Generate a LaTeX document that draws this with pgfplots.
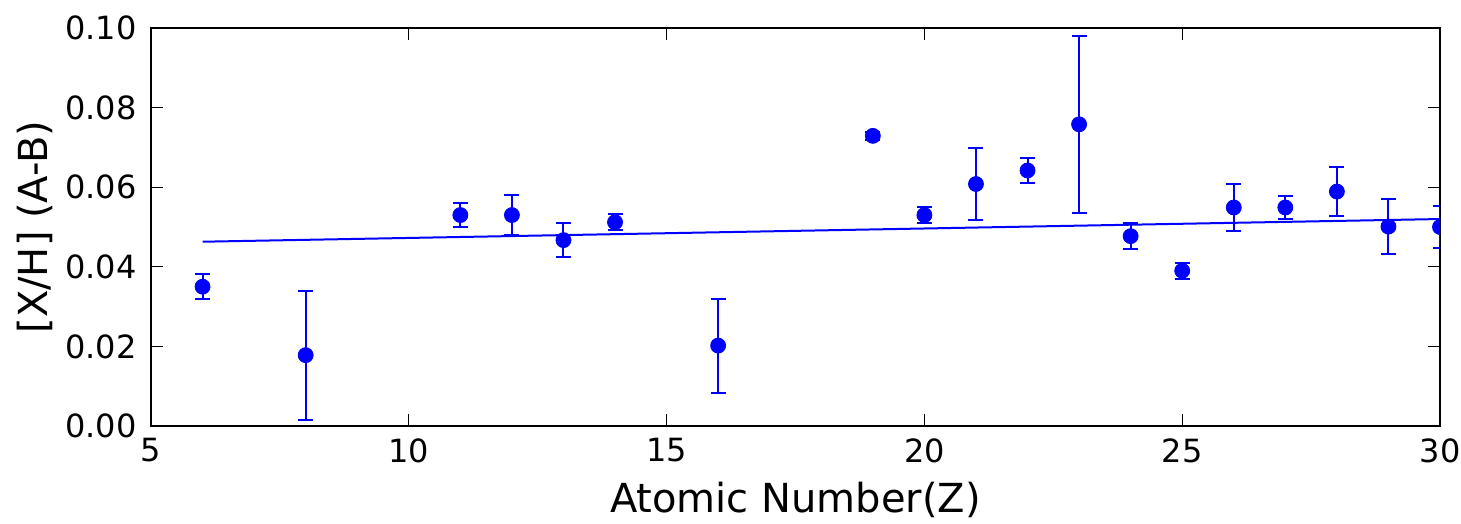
\documentclass[border=0pt]{standalone}
\usepackage{fontspec}
\setmainfont{DejaVu Sans}
\usepackage{pgfplots}
\pgfplotsset{compat=1.18}
\begin{document}
\begin{tikzpicture}
\begin{axis}[
  scale only axis,
  width=644.5pt, height=199pt,
  xmin=5, xmax=30, ymin=0, ymax=0.1,
  xtick={5,10,15,20,25,30},
  ytick={0,0.02,0.04,0.06,0.08,0.1},
  /pgf/number format/assume math mode=true,
  yticklabel style={/pgf/number format/fixed, /pgf/number format/fixed zerofill, /pgf/number format/precision=2, inner sep=0pt, xshift=-7pt, font=\fontsize{16}{19}\selectfont},
  scaled y ticks=false,
  xticklabel style={inner sep=0pt, yshift=-6pt, font=\fontsize{16}{19}\selectfont},
  tick align=inside,
  major tick length=6pt,
  every tick/.style={black, line width=0.5pt},
  axis line style={black, line width=1pt},
  xlabel={Atomic Number(Z)},
  ylabel={[X/H] (A-B)},
  label style={font=\fontsize{20}{24}\selectfont},
  xlabel style={at={(axis description cs:0.5,0)}, anchor=base, yshift=-43pt},
  ylabel style={at={(axis description cs:0,0.5)}, anchor=center, yshift=58pt},
  clip marker paths=true,
]
\addplot[blue, line width=1pt, no marks] coordinates {(6,0.0463) (30,0.0520)};
\addplot[blue, only marks, mark=*, mark size=3.75pt, mark options={fill=blue, draw=blue},
  error bars/.cd, y dir=both, y explicit,
  error bar style={blue, line width=1pt},
  error mark options={blue, line width=1pt, mark size=3.75pt, rotate=90}]
  table[x=z, y=v, y error=e] {
z v e
6 0.0350 0.0032
8 0.0178 0.0162
11 0.0530 0.0030
12 0.0530 0.0050
13 0.0467 0.0042
14 0.0512 0.0020
16 0.0202 0.0118
19 0.0729 0.0010
20 0.0530 0.0019
21 0.0608 0.0090
22 0.0642 0.0032
23 0.0758 0.0222
24 0.0477 0.0032
25 0.0390 0.0020
26 0.0549 0.0058
27 0.0549 0.0030
28 0.0589 0.0061
29 0.0501 0.0070
30 0.0500 0.0052
};
\end{axis}
\path ([xshift=-75.5pt,yshift=-47.5pt]current axis.south west) rectangle ([xshift=10.5pt,yshift=14pt]current axis.north east);
\end{tikzpicture}
\end{document}
